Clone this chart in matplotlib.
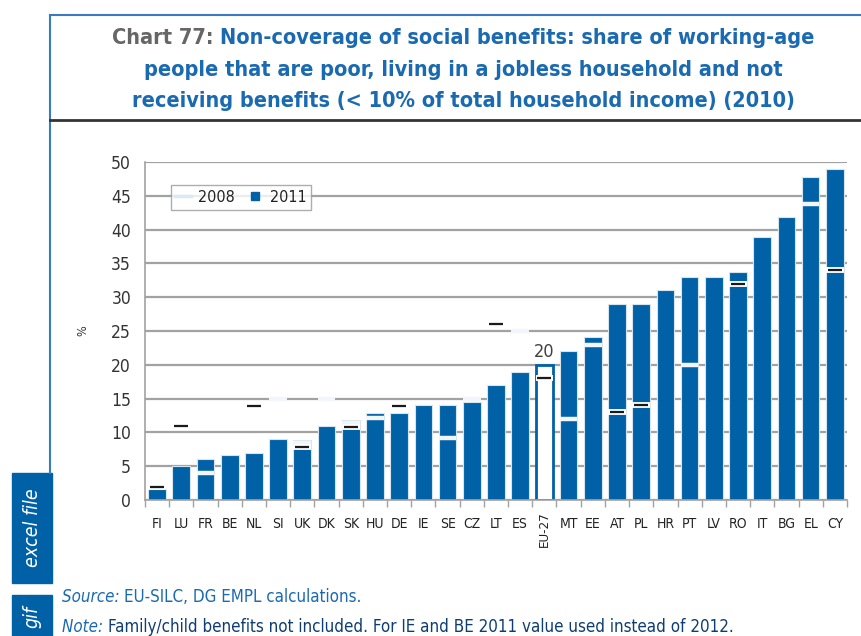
import numpy as np
import matplotlib
matplotlib.use("Agg")
import matplotlib.pyplot as plt
from matplotlib.lines import Line2D
from matplotlib.patches import Rectangle

countries = ['FI', 'LU', 'FR', 'BE', 'NL', 'SI', 'UK', 'DK', 'SK', 'HU', 'DE', 'IE', 'SE', 'CZ', 'LT',
             'ES', 'EU-27', 'MT', 'EE', 'AT', 'PL', 'HR', 'PT', 'LV', 'RO', 'IT', 'BG', 'EL', 'CY']
y2011 = [1.7, 5.0, 6.0, 6.6, 6.9, 9.0, 8.9, 11.0, 11.8, 12.9, 12.9, 14.0, 14.0, 14.5, 17.0,
         19.0, 20.0, 22.0, 24.1, 29.0, 29.0, 31.0, 33.0, 33.0, 33.8, 38.9, 41.9, 47.8, 49.0]
nan = np.nan
# 2008 values shown as pale dashes
y2008 = [nan, nan, 4.0, nan, nan, 15.0, 8.4, 15.0, 11.4, 12.2, nan, nan, 9.2, 15.0, nan,
         25.0, nan, 12.0, 23.0, nan, nan, nan, 20.0, nan, nan, nan, nan, 43.8, nan]
# 2008 values shown as dark dashes
y2008_dark = [2.0, 10.9, nan, nan, 13.9, nan, 7.9, nan, 10.8, nan, 13.9, nan, nan, nan, 26.0,
              nan, 18.0, nan, nan, 13.0, 14.0, nan, nan, nan, 32.0, nan, nan, nan, 34.0]
yticks = list(range(0, 55, 5))

BLUE = '#0061a6'
TBLUE = '#1a6ab2'
GREY = '#a2a2a2'
W, H = 861, 636

plt.rcParams['font.family'] = ['DejaVu Sans']
plt.rcParams['font.stretch'] = 'condensed'

fig = plt.figure(figsize=(W / 100, H / 100), dpi=100)
ax = fig.add_axes([0.1684, 0.2138, 0.8153, 0.5314])

x = np.arange(len(countries))
w = 0.73
eu = countries.index('EU-27')

bars = ax.bar(x, y2011, width=w, color=BLUE, edgecolor='#d6e4f0', linewidth=0.8, zorder=2)
bars[eu].set_facecolor('white')
bars[eu].set_edgecolor(BLUE)
bars[eu].set_linewidth(2)
ax.text(x[eu], y2011[eu] + 0.6, f"{y2011[eu]:.0f}", ha='center', va='bottom', fontsize=13, color='#404040')

# pale 2008 dashes
for i, v in enumerate(y2008):
    if not np.isnan(v):
        ax.plot([i - w / 2, i + w / 2], [v, v], color='#f2f6fb', lw=3.2, solid_capstyle='butt', zorder=3)
# dark 2008 dashes with a white halo
for i, v in enumerate(y2008_dark):
    if not np.isnan(v):
        ax.plot([i - w / 2, i + w / 2], [v, v], color='white', lw=4.2, solid_capstyle='butt', zorder=3)
        ax.plot([i - 0.29, i + 0.29], [v, v], color='#1a1a1a', lw=1.6, solid_capstyle='butt', zorder=4)

ax.set_xlim(-0.5, len(countries) - 0.5)
ax.set_ylim(0, 50)
ax.set_yticks(yticks)
ax.tick_params(axis='y', length=0, labelsize=12.5, labelcolor='#333333', pad=10)
ax.yaxis.grid(True, color=GREY, lw=1.6, zorder=0)
ax.set_axisbelow(True)
ax.set_xticks(x)
ax.set_xticklabels([c if c != 'EU-27' else '' for c in countries], fontsize=10, color='#222222')
ax.tick_params(axis='x', which='major', length=0, pad=12)
ax.set_xticks(np.arange(-0.5, len(countries)), minor=True)
ax.tick_params(axis='x', which='minor', length=5, color=GREY, width=1)
ax.text(x[eu], -1.6, 'EU-27', rotation=90, ha='center', va='top', fontsize=9.5, color='#222222')
for s in ['top', 'right']:
    ax.spines[s].set_visible(False)
for s in ['left', 'bottom']:
    ax.spines[s].set_color(GREY)
    ax.spines[s].set_linewidth(1.2)
ax.set_ylabel('%', fontsize=9, color='#333333', labelpad=16)

handles = [Line2D([0], [0], color='#dce8f5', lw=2.5),
           Line2D([0], [0], marker='s', color='none', markerfacecolor=BLUE, markeredgecolor=BLUE, markersize=6)]
leg = ax.legend(handles, ['2008', '2011'], loc='upper left', bbox_to_anchor=(0.025, 0.955), ncol=2,
                frameon=True, fancybox=False, fontsize=11.5, handlelength=1.0, handletextpad=0.4,
                columnspacing=0.8, borderpad=0.3)
leg.get_frame().set_edgecolor('#999999')
leg.get_frame().set_linewidth(1.0)
for t in leg.get_texts():
    t.set_color('#222222')

# frame lines
fig.add_artist(Line2D([50 / W, 1], [1 - 15 / H] * 2, color='#3a7bbf', lw=1.5))
fig.add_artist(Line2D([50 / W] * 2, [1 - 15 / H, 1 - 473 / H], color='#3a7bbf', lw=1.5))
fig.add_artist(Line2D([50 / W, 1], [1 - 120 / H] * 2, color='#333333', lw=2))

# title; first line in two colours
lines = ['Non-coverage of social benefits: share of working-age',
         'people that are poor, living in a jobless household and not',
         'receiving benefits (< 10% of total household income) (2010)']
tfont = dict(fontsize=16, fontweight='bold')
r = fig.canvas.get_renderer()
t1a = fig.text(0, 1 - 38 / H, 'Chart 77: ', color='#666666', va='center', ha='left', **tfont)
t1b = fig.text(0, 1 - 38 / H, lines[0], color=TBLUE, va='center', ha='left', **tfont)
# shrink the title so the first line spans about 708 px
scale = 708 / (t1a.get_window_extent(r).width + t1b.get_window_extent(r).width)
fs = 16 * min(scale, 1.1)
t1a.set_fontsize(fs)
t1b.set_fontsize(fs)
wa = t1a.get_window_extent(r).width
wb = t1b.get_window_extent(r).width
x0 = 463 - (wa + wb) / 2
t1a.set_x(x0 / W)
t1b.set_x((x0 + wa) / W)
fig.text(463 / W, 1 - 70 / H, lines[1], color=TBLUE, va='center', ha='center', fontsize=fs, fontweight='bold')
fig.text(463 / W, 1 - 101 / H, lines[2], color=TBLUE, va='center', ha='center', fontsize=fs, fontweight='bold')

# side tabs
fig.add_artist(Rectangle((12 / W, 1 - 583 / H), 40 / W, 110 / H, color=BLUE))
fig.add_artist(Rectangle((12 / W, 0), 40 / W, 41 / H, color=BLUE))
fig.text(32 / W, 1 - 528 / H, 'excel file', rotation=90, ha='center', va='center',
         color='white', fontsize=14, style='italic')
fig.text(32 / W, 1 - 617 / H, 'gif', rotation=90, ha='center', va='center',
         color='white', fontsize=14, style='italic')

# source and note, italic lead word followed by plain text
def lead_line(y, lead, rest, rest_color):
    a = fig.text(62 / W, 1 - y / H, lead + ' ', color=TBLUE, fontsize=12.2, style='italic', va='center')
    wa = a.get_window_extent(r).width
    fig.text((62 + wa) / W, 1 - y / H, rest, color=rest_color, fontsize=12.2, va='center')

lead_line(597, 'Source:', 'EU-SILC, DG EMPL calculations.', TBLUE)
lead_line(627, 'Note:', 'Family/child benefits not included. For IE and BE 2011 value used instead of 2012.',
          '#0d3d73')

fig.savefig('out.png', dpi=100)
